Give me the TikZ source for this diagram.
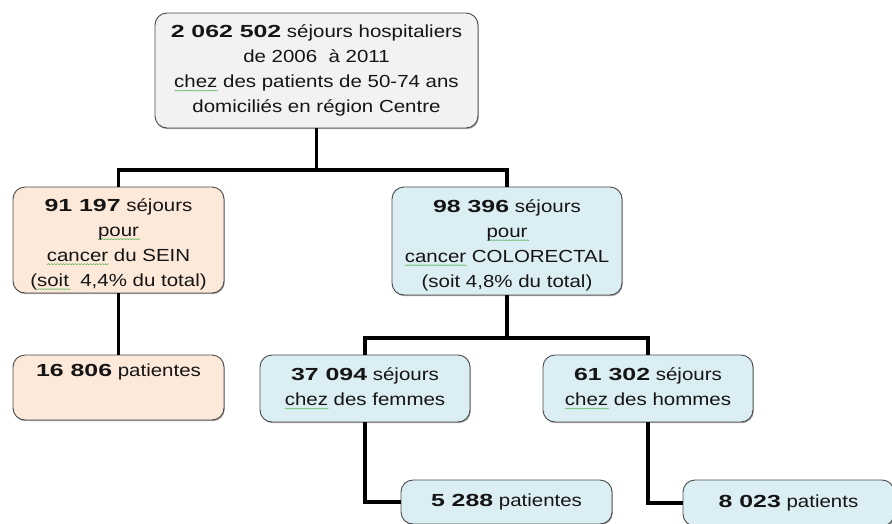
\documentclass[tikz,border=0pt]{standalone}
\usepackage{fontspec}
\setmainfont[FakeStretch=1.17,BoldFeatures={FakeStretch=1.42}]{Liberation Sans}
\usetikzlibrary{shadows}
\definecolor{bordergray}{HTML}{4A4A4A}
\definecolor{grayfill}{HTML}{F2F2F2}
\definecolor{peach}{HTML}{FDE9D9}
\definecolor{lightblue}{HTML}{DBEEF4}
\definecolor{squiggreen}{HTML}{4CAF4C}
\definecolor{txt}{HTML}{151515}
\newlength\sqw
\newdimen\sqx
\newcount\sqn
\newcommand\squig[1]{\settowidth\sqw{#1}\rlap{\raisebox{-3.8pt}{\begin{pgfpicture}\pgfsetcornersarced{\pgfpointorigin}\pgfsetdash{}{0pt}\pgfsetlinewidth{0.45pt}\pgfsetroundjoin\pgfsetroundcap\pgfsetstrokecolor{squiggreen}\pgfpathmoveto{\pgfpointorigin}\sqn=0 \sqx=0pt \loop\ifdim\sqx<\sqw \advance\sqx by 1.5pt \advance\sqn by 1 \ifodd\sqn \pgfpathlineto{\pgfpoint{\sqx}{1.1pt}}\else\pgfpathlineto{\pgfpoint{\sqx}{0pt}}\fi\repeat\pgfusepath{stroke}\end{pgfpicture}}}#1}
\newcommand\num[1]{\textbf{#1}}
\newcommand\pushdown{\rule{0pt}{21pt}}
\tikzset{
  boxnode/.style={draw=bordergray,line width=0.9pt,rounded corners=12pt,align=center,
    font=\fontsize{17.5}{25}\selectfont,text=txt,inner sep=0pt,
    drop shadow={shadow xshift=0.8pt,shadow yshift=-1.2pt,opacity=0.35,fill=black}},
  toptext/.style={anchor=north,align=center,font=\fontsize{17.5}{25}\selectfont,text=txt,inner sep=0pt},
  conn/.style={line width=3.6pt,draw=black,line join=miter}
}
\begin{document}
\begin{tikzpicture}[x=1pt,y=-1pt]
\clip (0,0) rectangle (892,523);
\fill[white] (0,0) rectangle (892,523);
\node[boxnode,fill=grayfill,minimum width=323pt,minimum height=115pt] (top) at (316.5,70.5)
  {\num{2 062 502} séjours hospitaliers\\de 2006\ \ à 2011\\\squig{chez} des patients de 50-74 ans\\domiciliés en région Centre};
\node[boxnode,fill=peach,minimum width=211pt,minimum height=106pt] (sein) at (118.5,240)
  {\pushdown\num{91 197} séjours\\\squig{pour}\\\squig{cancer} du SEIN\\(\squig{soit}\ \ 4,4\% du total)};
\node[boxnode,fill=lightblue,minimum width=230pt,minimum height=108pt] (colo) at (507,241)
  {\pushdown\num{98 396} séjours\\\squig{pour}\\\squig{cancer} COLORECTAL\\(soit 4,8\% du total)};
\node[boxnode,fill=peach,minimum width=211pt,minimum height=65pt] (pat1) at (118.5,387.5) {};
\node[toptext] (pat1t) at ([yshift=-9pt]pat1.north) {\num{16 806} patientes};
\node[boxnode,fill=lightblue,minimum width=210pt,minimum height=67pt] (fem) at (365,388.5)
  {\num{37 094} séjours\\\squig{chez} des femmes};
\node[boxnode,fill=lightblue,minimum width=210pt,minimum height=67pt] (hom) at (648,388.5)
  {\num{61 302} séjours\\\squig{chez} des hommes};
\node[boxnode,fill=lightblue,minimum width=211pt,minimum height=44pt] (pfem) at (506.5,502)
  {\num{5 288} patientes};
\node[boxnode,fill=lightblue,minimum width=211pt,minimum height=46pt] (phom) at (788.5,503)
  {\num{8 023} patients};
\coordinate (j1) at (316.5,170);
\coordinate (j2) at (507,338);
\draw[conn] (top.south) -- (j1);
\draw[conn] (sein.north) |- (j1) -| (colo.north);
\draw[conn] (sein.south) -- (pat1.north);
\draw[conn] (colo.south) -- (j2);
\draw[conn] (fem.north) |- (j2) -| (hom.north);
\draw[conn] (fem.south) |- (pfem.west);
\draw[conn] (hom.south) |- (phom.west);
\end{tikzpicture}
\end{document}
